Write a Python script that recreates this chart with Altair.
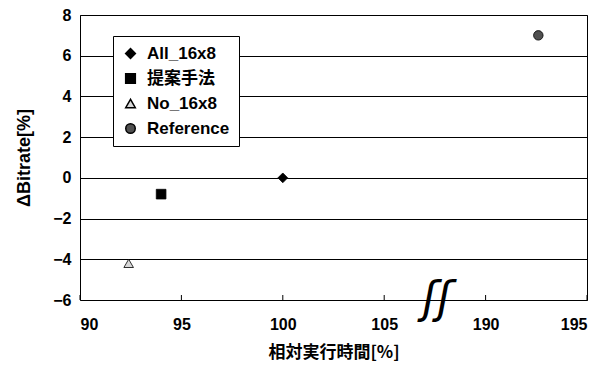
import altair as alt
import pandas as pd

# ---- data ----
series = ["All_16x8", "提案手法", "No_16x8", "Reference"]
exec_time = [100.0, 94.0, 92.4, 192.6]      # 相対実行時間[%]
bitrate = [0.0, -0.8, -4.2, 7.0]             # ΔBitrate[%]
x_tick_labels = [90, 95, 100, 105, 190, 195]
y_ticks = [-6, -4, -2, 0, 2, 4, 6, 8]
GAP = 80            # broken axis: 190 is drawn where 110 would be
break_at = [107.6]  # position of the axis-break symbol (compressed units)

def squeeze(v):
    return v - GAP if v > 150 else v

SQUEEZE_EXPR = f"datum.{{f}} > 150 ? datum.{{f}} - {GAP} : datum.{{f}}"

df = pd.DataFrame({"series": series, "time": exec_time, "bitrate": bitrate})
ticks_df = pd.DataFrame({"tick": x_tick_labels})
break_df = pd.DataFrame({"pos": break_at, "txt": ["ʃʃ"]})

W, H = 507, 285
x_scale = alt.Scale(domain=[90, 115], nice=False, zero=False)
y_scale = alt.Scale(domain=[-6, 8], nice=False, zero=False)

LAT = "Liberation Sans, Noto Sans CJK JP"

points = (
    alt.Chart(df)
    .transform_calculate(xp=SQUEEZE_EXPR.format(f="time"))
    .mark_point(filled=True, opacity=1, stroke="black", strokeWidth=0.8)
    .encode(
        x=alt.X(
            "xp:Q",
            scale=x_scale,
            axis=alt.Axis(
                values=[squeeze(v) for v in x_tick_labels],
                labelExpr=f"datum.value > 107.5 ? format(datum.value + {GAP}, 'd') : datum.label",
                title="相対実行時間[%]",
                grid=False,
                ticks=False,
                domain=False,
                labelPadding=16,
                titlePadding=12,
                titleFont="Noto Sans CJK JP",
                titleFontSize=17,
            ),
        ),
        y=alt.Y(
            "bitrate:Q",
            scale=y_scale,
            axis=alt.Axis(
                values=y_ticks,
                title="ΔBitrate[%]",
                grid=True,
                ticks=False,
                domain=False,
                labelPadding=9,
                titlePadding=19,
                titleFontSize=18,
            ),
        ),
        shape=alt.Shape(
            "series:N",
            scale=alt.Scale(domain=series, range=["diamond", "square", "triangle-up", "circle"]),
            legend=alt.Legend(title=None),
        ),
        color=alt.Color(
            "series:N",
            scale=alt.Scale(domain=series, range=["black", "black", "#d8d8d8", "#505050"]),
            legend=alt.Legend(title=None),
        ),
        size=alt.Size(
            "series:N",
            scale=alt.Scale(domain=series, range=[95, 90, 35, 50]),
            legend=alt.Legend(title=None),
        ),
    )
)

ticks = (
    alt.Chart(ticks_df)
    .transform_calculate(xp=SQUEEZE_EXPR.format(f="tick"))
    .mark_rule(color="black", strokeWidth=1)
    .encode(x=alt.X("xp:Q", scale=x_scale), y=alt.value(H), y2=alt.value(H - 5))
)

brk = (
    alt.Chart(break_df)
    .mark_text(font="DejaVu Sans", fontSize=44, fontStyle="italic",
               color="black", baseline="middle", align="center", dy=0)
    .encode(x=alt.X("pos:Q", scale=x_scale), y=alt.value(H), text="txt:N")
)

chart = (
    alt.layer(ticks, points, brk)
    .properties(
        width=W,
        height=H,
        padding={"left": 72, "top": 7, "right": 16, "bottom": 66},
        autosize=alt.AutoSizeParams(type="none"),
        background="white",
    )
    .configure_view(stroke="black", strokeWidth=1)
    .configure_axis(
        labelFont=LAT,
        labelFontSize=16,
        labelFontWeight="bold",
        labelColor="black",
        titleFont=LAT,
        titleFontWeight="bold",
        titleColor="black",
        gridColor="black",
        gridWidth=1,
        gridOpacity=1,
    )
    .configure_legend(
        orient="none",
        legendX=33,
        legendY=21,
        strokeColor="black",
        fillColor="white",
        padding=9,
        labelFont=LAT,
        labelFontSize=17,
        labelFontWeight="bold",
        labelColor="black",
        rowPadding=7,
        labelOffset=8,
        cornerRadius=0,
    )
)

chart.save("out.html", embed_options={"renderer": "svg", "actions": False})
